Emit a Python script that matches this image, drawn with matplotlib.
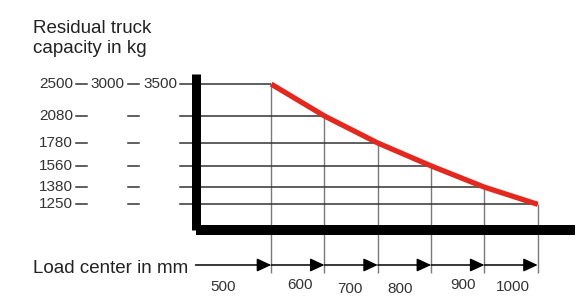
import matplotlib
matplotlib.use('Agg')
import matplotlib.pyplot as plt
import numpy as np
from matplotlib import transforms
from matplotlib.patches import FancyArrowPatch

# chart data
load_center = [500, 600, 700, 800, 900, 1000]          # mm
capacity = [2500, 2080, 1780, 1560, 1380, 1250]        # kg, residual capacity
truck_capacity = [2500, 3000, 3500]                    # nominal truck models

plt.rcParams['font.family'] = ['Liberation Sans', 'DejaVu Sans']

W, H = 588, 308
fig = plt.figure(figsize=(W / 100, H / 100), dpi=100)
ax = fig.add_axes([195.5 / W, 1 - 230 / H, (575 - 195.5) / W, (230 - 74) / H])
ax.patch.set_alpha(0)
ax.set_yscale('log')
xlim = (358, 1070)
ylim = (1078, 2650)
ax.set_xlim(*xlim)
ax.set_ylim(*ylim)
ax.tick_params(which='both', left=False, bottom=False, labelleft=False, labelbottom=False)

for s in ['top', 'right']:
    ax.spines[s].set_visible(False)
ax.spines['left'].set_linewidth(9 * 0.72)
ax.spines['bottom'].set_linewidth(10 * 0.72)
for s in ['left', 'bottom']:
    ax.spines[s].set_capstyle('butt')
    ax.spines[s].set_color('black')


def yfrac(c):
    return np.log(c / ylim[0]) / np.log(ylim[1] / ylim[0])


# grid lines from the curve to the axes
ax.hlines(capacity, xlim[0], load_center, color='#333333', lw=1.1, zorder=2)
ax.vlines(load_center, -0.276, [yfrac(c) for c in capacity],
          transform=ax.get_xaxis_transform(), color='#7a7a7a', lw=1.0,
          clip_on=False, zorder=1)

# capacity curve
ax.plot(load_center, capacity, color='#e3291f', lw=3.8,
        solid_capstyle='butt', solid_joinstyle='round', zorder=4)

# row labels and dashes on the left
row_tr = transforms.blended_transform_factory(fig.transFigure, ax.transData)
dash_spans = [(76, 87), (128, 139), (180, 192)]
label_right = [73, 124, 177]
for c in capacity:
    for x0, x1 in dash_spans:
        ax.plot([x0 / W, x1 / W], [c, c], transform=row_tr, color='#333333',
                lw=1.1, clip_on=False)
    ax.text(label_right[0] / W, c, str(c), transform=row_tr, ha='right',
            va='center', fontsize=11, color='#333333')
for tc, xr in zip(truck_capacity[1:], label_right[1:]):
    ax.text(xr / W, capacity[0], str(tc), transform=row_tr, ha='right',
            va='center', fontsize=11, color='#333333')

# titles
fig.text(33 / W, 1 - 33 / H, 'Residual truck', fontsize=13.5, color='#222222', va='baseline')
fig.text(33 / W, 1 - 53 / H, 'capacity in kg', fontsize=13.5, color='#222222', va='baseline')
fig.text(33 / W, 1 - 273 / H, 'Load center in mm', fontsize=13.5, color='#222222', va='baseline')

# arrows along the load center row
bounds = [xlim[0]] + load_center
arrow_y = -(265 - 230) / 156
for i in range(len(load_center)):
    arr = FancyArrowPatch((bounds[i], arrow_y), (bounds[i + 1], arrow_y),
                          transform=ax.get_xaxis_transform(),
                          arrowstyle='-|>,head_length=8.6,head_width=4.0',
                          mutation_scale=1, lw=1.1, color='black',
                          shrinkA=0, shrinkB=0, zorder=5)
    arr.set_clip_on(False)
    ax.add_patch(arr)

# load center labels, centred in each interval (small hand nudges in px)
nudge_x = [-10, 2, -1, -4, 5, 2]
nudge_y = [0, -2, 2, 2, -2, 0]
label_y = -(287 - 230) / 156
for i, v in enumerate(load_center):
    mid = (bounds[i] + bounds[i + 1]) / 2
    ax.annotate(str(v), xy=(mid, label_y), xycoords=ax.get_xaxis_transform(),
                xytext=(nudge_x[i] * 0.72, -nudge_y[i] * 0.72),
                textcoords='offset points', ha='center', va='center',
                fontsize=11, color='#333333', annotation_clip=False)

fig.savefig('out.png', dpi=100)
